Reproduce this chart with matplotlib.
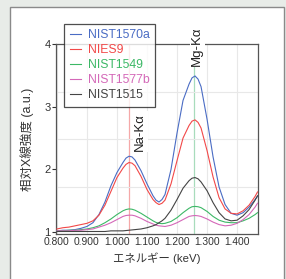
import matplotlib
matplotlib.use("Agg")
import matplotlib.pyplot as plt
from matplotlib.patches import Rectangle

plt.rcParams['font.family'] = ['Liberation Sans', 'Noto Sans CJK JP', 'DejaVu Sans']

# energy (keV)
energy = [0.80, 0.82, 0.84, 0.86, 0.88, 0.90, 0.92, 0.94, 0.96, 0.98,
          1.00, 1.02, 1.03, 1.04, 1.05, 1.06, 1.08, 1.10, 1.12, 1.13,
          1.14, 1.15, 1.16, 1.18, 1.20, 1.22, 1.24, 1.25, 1.26, 1.27,
          1.28, 1.30, 1.32, 1.34, 1.36, 1.38, 1.40, 1.42, 1.44, 1.46,
          1.468]

nist1570a = [1.02, 1.03, 1.03, 1.04, 1.06, 1.09, 1.15, 1.28, 1.48, 1.74,
             1.95, 2.11, 2.18, 2.21, 2.20, 2.15, 1.98, 1.77, 1.58, 1.51,
             1.48, 1.52, 1.60, 2.00, 2.58, 3.10, 3.36, 3.46, 3.49, 3.44,
             3.32, 2.80, 2.20, 1.72, 1.44, 1.30, 1.27, 1.31, 1.40, 1.52,
             1.57]
nies9 = [1.05, 1.07, 1.08, 1.10, 1.12, 1.14, 1.18, 1.27, 1.43, 1.65,
         1.87, 2.02, 2.08, 2.11, 2.10, 2.06, 1.89, 1.68, 1.52, 1.47,
         1.44, 1.46, 1.51, 1.77, 2.14, 2.50, 2.70, 2.77, 2.79, 2.75,
         2.66, 2.30, 1.88, 1.55, 1.37, 1.30, 1.29, 1.34, 1.43, 1.57,
         1.64]
nist1549 = [1.02, 1.02, 1.03, 1.03, 1.04, 1.05, 1.07, 1.10, 1.15, 1.21,
            1.28, 1.34, 1.36, 1.37, 1.365, 1.35, 1.30, 1.24, 1.18, 1.155,
            1.14, 1.135, 1.14, 1.17, 1.23, 1.31, 1.38, 1.405, 1.41, 1.405,
            1.39, 1.33, 1.25, 1.19, 1.16, 1.15, 1.15, 1.18, 1.22, 1.28,
            1.31]
nist1577b = [1.02, 1.02, 1.02, 1.03, 1.03, 1.04, 1.05, 1.08, 1.11, 1.15,
             1.20, 1.25, 1.265, 1.27, 1.27, 1.26, 1.22, 1.17, 1.13, 1.11,
             1.10, 1.095, 1.09, 1.11, 1.15, 1.20, 1.25, 1.26, 1.265, 1.26,
             1.25, 1.21, 1.16, 1.12, 1.10, 1.11, 1.14, 1.20, 1.28, 1.40,
             1.46]
nist1515 = [1.01, 1.01, 1.01, 1.01, 1.01, 1.01, 1.01, 1.01, 1.01, 1.02,
            1.02, 1.02, 1.025, 1.03, 1.035, 1.04, 1.05, 1.07, 1.10, 1.12,
            1.15, 1.18, 1.22, 1.35, 1.52, 1.70, 1.82, 1.86, 1.87, 1.85,
            1.80, 1.66, 1.47, 1.31, 1.21, 1.18, 1.19, 1.26, 1.36, 1.51,
            1.58]

names = ['NIST1570a', 'NIES9', 'NIST1549', 'NIST1577b', 'NIST1515']
series = [nist1570a, nies9, nist1549, nist1577b, nist1515]
colors = ['#4a6cc4', '#f24848', '#3cb866', '#d468b8', '#444444']

na_ka = 1.041
mg_ka = 1.258
xticks = [0.8, 0.9, 1.0, 1.1, 1.2, 1.3, 1.4]
yticks = [1, 2, 3, 4]

fig = plt.figure(figsize=(2.86, 2.79), dpi=100)
fig.patch.set_facecolor('#e8ece8')
fig.patches.append(Rectangle((10/286, -0.1), 274/286, 1.1 - 7/279,
                             transform=fig.transFigure, facecolor='white',
                             edgecolor='#8a8a8a', linewidth=1.0, zorder=-5))

ax = fig.add_axes([56/286, 1 - 234/279, 201.5/286, 190/279])
ax.set_zorder(2)
ax.patch.set_alpha(0)
ax.set_xlim(0.797, 1.468)
ax.set_ylim(0.97, 4.0)

ax.axvline(na_ka, color='#f5a8a8', linewidth=0.9, zorder=1)
ax.axvline(mg_ka, color='#a8dcbc', linewidth=0.9, zorder=1)

lines = []
for name, vals, c in zip(names, series, colors):
    ln, = ax.plot(energy, vals, color=c, linewidth=0.8, label=name, zorder=3)
    lines.append(ln)

ax.set_xticks(xticks)
ax.set_xticklabels([f'{v:.3f}' for v in xticks])
ax.set_yticks(yticks)
ax.set_yticks([0.97 + 0.7575 * k for k in (1, 2, 3)], minor=True)
ax.tick_params(axis='x', length=0, pad=2, labelsize=7.4, colors='#333333')
ax.tick_params(axis='y', which='major', length=3, pad=1, labelsize=8,
               colors='#333333')
ax.tick_params(axis='y', which='minor', length=0)
ax.grid(True, axis='x', color='#e8e8e8', linewidth=0.8)
ax.grid(True, axis='y', which='minor', color='#e8e8e8', linewidth=0.8)
for sp in ax.spines.values():
    sp.set_color('#555555')
    sp.set_linewidth(0.9)

ax.set_xlabel('エネルギー (keV)', fontsize=8.2, color='#333333', labelpad=4)
ax.set_ylabel('相対X線強度 (a.u.)', fontsize=9, color='#333333', labelpad=7)

ax.text(1.077, 2.6, 'Na-Kα', rotation=90, ha='center', va='center',
        fontsize=9.5, color='#222222', zorder=4,
        bbox=dict(facecolor='white', edgecolor='none', pad=1))
ax.text(1.267, 3.97, 'Mg-Kα', rotation=90, ha='center', va='center',
        fontsize=9.5, color='#222222', zorder=4, clip_on=False,
        bbox=dict(facecolor='white', edgecolor='none', pad=1))

leg = fig.legend(handles=lines, loc='upper left', bbox_to_anchor=(64/286, 1 - 24/279),
                 fontsize=8.8, frameon=True, fancybox=False, handlelength=0.9,
                 handletextpad=0.6, labelspacing=0.24, borderpad=0.45,
                 borderaxespad=0)
leg.set_zorder(5)
leg.get_frame().set_edgecolor('#222222')
leg.get_frame().set_linewidth(0.9)
for t, c in zip(leg.get_texts(), colors):
    t.set_color(c)

fig.savefig('out.png', dpi=100)
